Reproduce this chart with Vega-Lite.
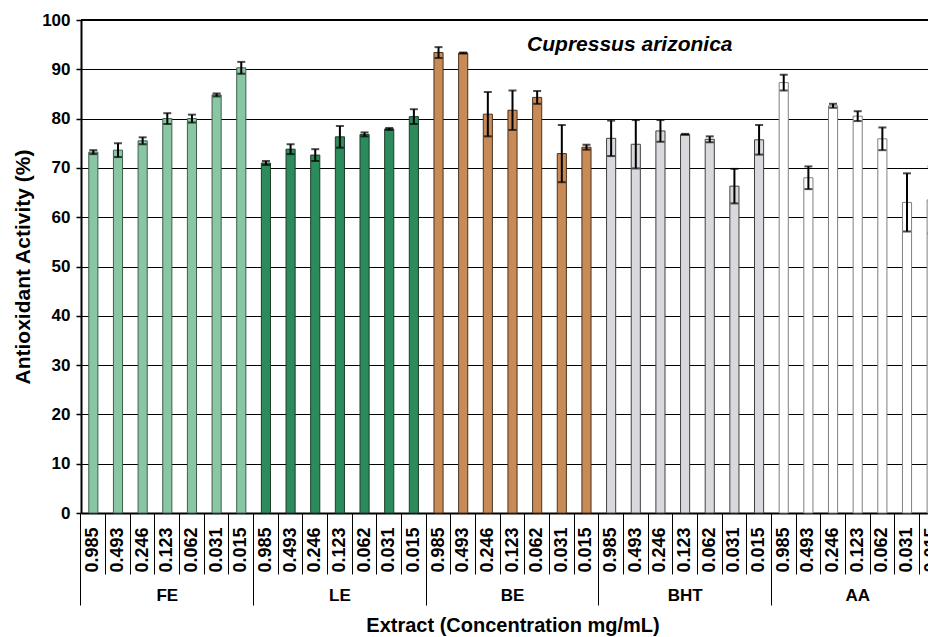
{
  "$schema": "https://vega.github.io/schema/vega-lite/v6.json",
  "width": 847,
  "height": 493,
  "autosize": {"type": "none"},
  "padding": {"left": 81, "top": 20, "right": 0, "bottom": 124},
  "background": "white",
  "config": {"view": {"stroke": null}},
  "data": {"values": [
    {"group": "FE", "key": "FE|0.985", "value": 73.2, "err": 0.4},
    {"group": "FE", "key": "FE|0.493", "value": 73.6, "err": 1.4},
    {"group": "FE", "key": "FE|0.246", "value": 75.5, "err": 0.7},
    {"group": "FE", "key": "FE|0.123", "value": 80.0, "err": 1.1},
    {"group": "FE", "key": "FE|0.062", "value": 80.0, "err": 0.8},
    {"group": "FE", "key": "FE|0.031", "value": 84.8, "err": 0.3},
    {"group": "FE", "key": "FE|0.015", "value": 90.3, "err": 1.2},
    {"group": "LE", "key": "LE|0.985", "value": 71.0, "err": 0.4},
    {"group": "LE", "key": "LE|0.493", "value": 73.8, "err": 1.0},
    {"group": "LE", "key": "LE|0.246", "value": 72.6, "err": 1.2},
    {"group": "LE", "key": "LE|0.123", "value": 76.3, "err": 2.2},
    {"group": "LE", "key": "LE|0.062", "value": 76.8, "err": 0.4},
    {"group": "LE", "key": "LE|0.031", "value": 77.9, "err": 0.2},
    {"group": "LE", "key": "LE|0.015", "value": 80.4, "err": 1.5},
    {"group": "BE", "key": "BE|0.985", "value": 93.4, "err": 1.1},
    {"group": "BE", "key": "BE|0.493", "value": 93.3, "err": 0.1},
    {"group": "BE", "key": "BE|0.246", "value": 80.9, "err": 4.5},
    {"group": "BE", "key": "BE|0.123", "value": 81.7, "err": 4.0},
    {"group": "BE", "key": "BE|0.062", "value": 84.3, "err": 1.3},
    {"group": "BE", "key": "BE|0.031", "value": 72.9, "err": 5.8},
    {"group": "BE", "key": "BE|0.015", "value": 74.2, "err": 0.5},
    {"group": "BHT", "key": "BHT|0.985", "value": 76.0, "err": 3.6},
    {"group": "BHT", "key": "BHT|0.493", "value": 74.8, "err": 4.9},
    {"group": "BHT", "key": "BHT|0.246", "value": 77.5, "err": 2.2},
    {"group": "BHT", "key": "BHT|0.123", "value": 76.8, "err": 0.1},
    {"group": "BHT", "key": "BHT|0.062", "value": 75.8, "err": 0.6},
    {"group": "BHT", "key": "BHT|0.031", "value": 66.3, "err": 3.5},
    {"group": "BHT", "key": "BHT|0.015", "value": 75.7, "err": 3.0},
    {"group": "AA", "key": "AA|0.985", "value": 87.3, "err": 1.6},
    {"group": "AA", "key": "AA|0.493", "value": 68.0, "err": 2.3},
    {"group": "AA", "key": "AA|0.246", "value": 82.6, "err": 0.4},
    {"group": "AA", "key": "AA|0.123", "value": 80.5, "err": 1.0},
    {"group": "AA", "key": "AA|0.062", "value": 75.9, "err": 2.3},
    {"group": "AA", "key": "AA|0.031", "value": 63.0, "err": 5.9},
    {"group": "AA", "key": "AA|0.015", "value": 63.5, "err": 6.8}
  ]},
  "resolve": {"axis": {"x": "independent"}},
  "layer": [
    {
      "mark": {"type": "bar", "strokeWidth": 1},
      "encoding": {
        "x": {
          "field": "key", "type": "nominal",
          "scale": {
            "domain": ["FE|0.985","FE|0.493","FE|0.246","FE|0.123","FE|0.062","FE|0.031","FE|0.015",
                       "LE|0.985","LE|0.493","LE|0.246","LE|0.123","LE|0.062","LE|0.031","LE|0.015",
                       "BE|0.985","BE|0.493","BE|0.246","BE|0.123","BE|0.062","BE|0.031","BE|0.015",
                       "BHT|0.985","BHT|0.493","BHT|0.246","BHT|0.123","BHT|0.062","BHT|0.031","BHT|0.015",
                       "AA|0.985","AA|0.493","AA|0.246","AA|0.123","AA|0.062","AA|0.031","AA|0.015"],
            "range": [0, 863],
            "paddingInner": 0.63,
            "paddingOuter": 0.315
          },
          "axis": {
            "orient": "bottom", "title": null,
            "labelExpr": "split(datum.value,'|')[1]",
            "labelAngle": 270,
            "labelFont": "Liberation Sans", "labelFontWeight": "bold", "labelFontSize": 18, "labelColor": "black",
            "labelPadding": -47, "labelOverlap": false, "labelBound": false,
            "bandPosition": -0.8514,
            "ticks": true, "tickSize": 61, "tickColor": "black", "tickWidth": 1,
            "domain": true, "domainColor": "black", "domainWidth": 2,
            "grid": false
          }
        },
        "y": {
          "field": "value", "type": "quantitative",
          "title": "Antioxidant Activity (%)",
          "scale": {"domain": [0, 100], "nice": false},
          "axis": {
            "values": [0, 10, 20, 30, 40, 50, 60, 70, 80, 90, 100],
            "grid": true, "gridColor": "black", "gridWidth": 1, "gridOpacity": 1,
            "tickSize": 5, "tickColor": "black", "tickWidth": 1.5,
            "domainColor": "black", "domainWidth": 2,
            "labelFont": "Liberation Sans", "labelFontWeight": "bold", "labelFontSize": 17, "labelColor": "black",
            "labelPadding": 6,
            "titleFont": "Liberation Sans", "titleFontWeight": "bold", "titleFontSize": 21, "titleColor": "black",
            "titlePadding": 8
          }
        },
        "fill": {
          "field": "group", "type": "nominal", "legend": null,
          "scale": {"domain": ["FE", "LE", "BE", "BHT", "AA"], "range": ["#88c6a4", "#2b8b5b", "#c88a56", "#d9d9dd", "#ffffff"]}
        },
        "stroke": {
          "field": "group", "type": "nominal", "legend": null,
          "scale": {"domain": ["FE", "LE", "BE", "BHT", "AA"], "range": ["#3f5f4c", "#1f3d2c", "#4a3320", "#404040", "#808080"]}
        }
      }
    },
    {
      "mark": {"type": "errorbar", "color": "black", "thickness": 2, "ticks": {"size": 8}},
      "encoding": {
        "x": {"field": "key", "type": "nominal", "axis": null},
        "y": {"field": "value", "type": "quantitative", "title": "Antioxidant Activity (%)"},
        "yError": {"field": "err"}
      }
    },
    {
      "data": {"values": [{"label": "Cupressus arizonica"}]},
      "mark": {"type": "text", "font": "Liberation Sans", "fontStyle": "italic", "fontWeight": "bold", "fontSize": 21, "color": "black", "dx": -6, "baseline": "middle"},
      "encoding": {
        "x": {
          "datum": "BHT|0.493", "type": "nominal",
          "axis": {
            "orient": "bottom",
            "title": "Extract (Concentration mg/mL)",
            "titleFont": "Liberation Sans", "titleFontWeight": "bold", "titleFontSize": 20, "titleColor": "black",
            "titlePadding": 10,
            "labelExpr": "split(datum.value,'|')[1]=='0.123' ? split(datum.value,'|')[0] : ''",
            "labelAngle": 0,
            "labelFont": "Liberation Sans", "labelFontWeight": "bold", "labelFontSize": 17, "labelColor": "black",
            "labelPadding": -18, "labelOverlap": false, "labelBound": false,
            "bandPosition": -0.8514,
            "tickSize": 92, "tickColor": "black", "tickWidth": 1,
            "tickOpacity": {"condition": {"test": "split(datum.value,'|')[1]=='0.985'", "value": 1}, "value": 0},
            "domain": false, "grid": false
          }
        },
        "y": {"datum": 95, "type": "quantitative"},
        "text": {"field": "label", "type": "nominal"}
      }
    },
    {
      "data": {"values": [{"edge": 100}]},
      "mark": {"type": "rule", "color": "black", "strokeWidth": 2},
      "encoding": {
        "y": {"field": "edge", "type": "quantitative"}
      }
    }
  ]
}
